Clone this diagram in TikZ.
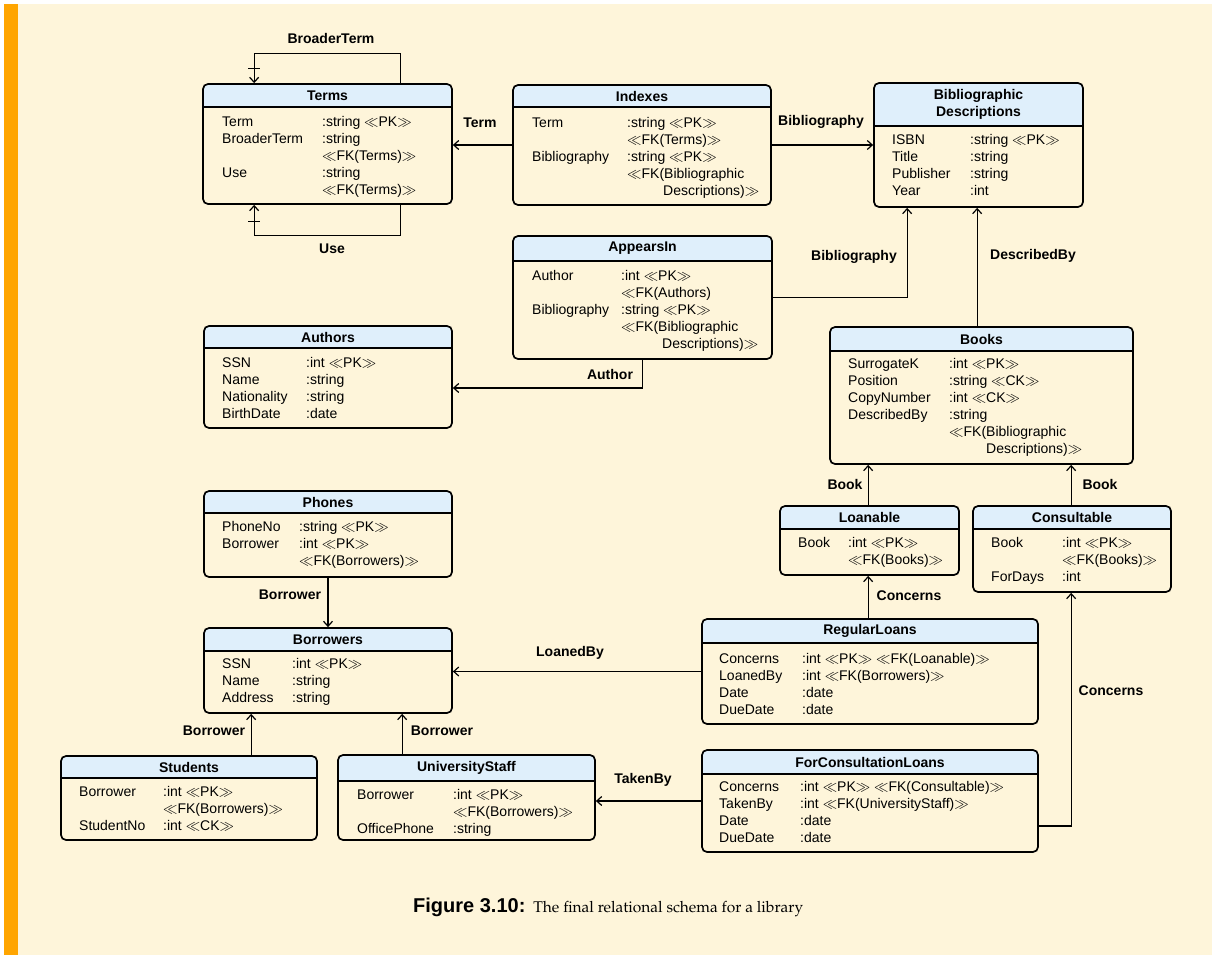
\documentclass[tikz,border=0pt]{standalone}
\usepackage{fontspec}
\setmainfont{Liberation Sans}
\usetikzlibrary{arrows.meta,fit}
\definecolor{cream}{HTML}{FEF5DA}
\definecolor{hdr}{HTML}{DFEFFB}
\definecolor{barc}{HTML}{FFA500}
\newcommand\lgl{$\ll$}
\newcommand\rgl{$\gg$}
\tikzset{
 boxline/.style={line width=1.7pt},
 conn/.style={line width=1.2pt, -{Straight Barb[length=5pt,width=9pt]}},
 plainconn/.style={line width=1.2pt},
 lbl/.style={font=\fontsize{14}{17}\selectfont\bfseries, inner sep=0pt, text height=10pt, text depth=3pt},
 ttl/.style={font=\fontsize{14}{17}\selectfont\bfseries, inner sep=0pt, align=center},
 fcol/.style={font=\fontsize{14}{17}\selectfont, inner sep=0pt, align=left, anchor=north west},
}
\newcommand\ermbox[7]{%
 \begin{scope}
 \clip[rounded corners=5pt] (#2,#3) rectangle (#4,#5);
 \fill[cream] (#2,#3) rectangle (#4,#5);
 \fill[hdr] (#2,#3) rectangle (#4,#6);
 \end{scope}
 \draw[boxline] (#2,#6) -- (#4,#6);
 \node[draw, boxline, rounded corners=5pt, inner sep=0pt, fit={(#2,#3) (#4,#5)}] (#1) {};
 \node[ttl] (#1-t) at ({(#2+#4)/2},{(#3+#6)/2}) {#7};
}
\newcommand\ermfields[6]{%
 \node[fcol] (#1-a) at (#2,{#4-7}) {\strut #5};
 \node[fcol] (#1-b) at (#3,{#4-7}) {\strut #6};
}
\begin{document}
\begin{tikzpicture}[x=1pt,y=-1pt]
\useasboundingbox (0,0) rectangle (1212,955);
\fill[cream] (4,4) rectangle (1212,955);
\fill[barc] (4,4) rectangle (18,955);

% entities
\ermbox{terms}{203}{84}{452}{204}{107}{Terms}
\ermfields{terms}{222}{322}{121}{Term\\BroaderTerm\\~\\Use}{:string \lgl PK\rgl\\:string\\\lgl FK(Terms)\rgl\\:string\\\lgl FK(Terms)\rgl}

\ermbox{indexes}{513}{85}{771}{205}{107}{Indexes}
\ermfields{indexes}{532}{627}{122}{Term\\~\\Bibliography}{:string \lgl PK\rgl\\\lgl FK(Terms)\rgl\\:string \lgl PK\rgl\\\lgl FK(Bibliographic\\\hspace*{36pt}Descriptions)\rgl}

\ermbox{bib}{874}{83}{1083}{207}{126}{Bibliographic\\Descriptions}
\ermfields{bib}{892}{970}{139}{ISBN\\Title\\Publisher\\Year}{:string \lgl PK\rgl\\:string\\:string\\:int}

\ermbox{appears}{513}{236}{772}{359}{261}{AppearsIn}
\ermfields{appears}{532}{621}{275}{Author\\~\\Bibliography}{:int \lgl PK\rgl\\\lgl FK(Authors)\\:string \lgl PK\rgl\\\lgl FK(Bibliographic\\\hspace*{41pt}Descriptions)\rgl}

\ermbox{authors}{204}{326}{452}{428}{348}{Authors}
\ermfields{authors}{222}{306}{362}{SSN\\Name\\Nationality\\BirthDate}{:int \lgl PK\rgl\\:string\\:string\\:date}

\ermbox{books}{830}{327}{1133}{464}{351}{Books}
\ermfields{books}{848}{949}{363}{SurrogateK\\Position\\CopyNumber\\DescribedBy}{:int \lgl PK\rgl\\:string \lgl CK\rgl\\:int \lgl CK\rgl\\:string\\\lgl FK(Bibliographic\\\hspace*{37pt}Descriptions)\rgl}

\ermbox{phones}{204}{491}{452}{577}{513}{Phones}
\ermfields{phones}{222}{299}{526}{PhoneNo\\Borrower}{:string \lgl PK\rgl\\:int \lgl PK\rgl\\\lgl FK(Borrowers)\rgl}

\ermbox{borrowers}{204}{628}{452}{713}{651}{Borrowers}
\ermfields{borrowers}{222}{292}{663}{SSN\\Name\\Address}{:int \lgl PK\rgl\\:string\\:string}

\ermbox{loanable}{780}{506}{959}{575}{529}{Loanable}
\ermfields{loanable}{798}{848}{542}{Book}{:int \lgl PK\rgl\\\lgl FK(Books)\rgl}

\ermbox{consult}{973}{506}{1171}{592}{529}{Consultable}
\ermfields{consult}{991}{1062}{542}{Book\\~\\ForDays}{:int \lgl PK\rgl\\\lgl FK(Books)\rgl\\:int}

\ermbox{regular}{702}{619}{1038}{724}{643}{RegularLoans}
\ermfields{regular}{719}{802}{658}{Concerns\\LoanedBy\\Date\\DueDate}{:int \lgl PK\rgl{} \lgl FK(Loanable)\rgl\\:int \lgl FK(Borrowers)\rgl\\:date\\:date}

\ermbox{fcl}{702}{750}{1038}{852}{774}{ForConsultationLoans}
\ermfields{fcl}{719}{800}{786}{Concerns\\TakenBy\\Date\\DueDate}{:int \lgl PK\rgl{} \lgl FK(Consultable)\rgl\\:int \lgl FK(UniversityStaff)\rgl\\:date\\:date}

\ermbox{students}{61}{756}{317}{840}{778}{Students}
\ermfields{students}{79}{163}{791}{Borrower\\~\\StudentNo}{:int \lgl PK\rgl\\\lgl FK(Borrowers)\rgl\\:int \lgl CK\rgl}

\ermbox{ustaff}{338}{755}{595}{840}{781}{UniversityStaff}
\ermfields{ustaff}{357}{453}{794}{Borrower\\~\\OfficePhone}{:int \lgl PK\rgl\\\lgl FK(Borrowers)\rgl\\:string}

% helper coordinates
\coordinate (btop) at ([xshift=198pt]terms.north west);
\coordinate (btarget) at ([xshift=52pt]terms.north west);
\coordinate (ubot) at ([xshift=198pt]terms.south west);
\coordinate (utarget) at ([xshift=52pt]terms.south west);
\coordinate (dsrc) at ([xshift=148pt]books.north west);
\coordinate (lbk) at ([xshift=89pt]loanable.north west);
\coordinate (cbk) at ([xshift=99pt]consult.north west);
\coordinate (rcn) at ([xshift=167pt]regular.north west);
\coordinate (stb) at ([xshift=191pt]students.north west);
\coordinate (usb) at ([xshift=65pt]ustaff.north west);

% connectors
\draw[conn] (btop) -- ++(0,-30) -| (btarget);
\draw[plainconn] ([xshift=-6pt,yshift=15pt]btarget) -- ++(12,0);
\draw[conn] (ubot) -- ++(0,31) -| (utarget);
\draw[plainconn] ([xshift=-6pt,yshift=-17pt]utarget) -- ++(12,0);
\draw[conn] (indexes.west) -- (terms.east |- indexes.west);
\draw[conn] (indexes.east) -- (bib.west |- indexes.east);
\draw[conn] (appears.east) -| ([xshift=34pt]bib.south west);
\draw[conn] (dsrc) -- (dsrc |- bib.south);
\draw[conn] ([xshift=130pt]appears.south west) |- ([yshift=-11pt]authors.east);
\draw[conn] (lbk) -- (lbk |- books.south);
\draw[conn] (cbk) -- (cbk |- books.south);
\draw[conn] (rcn) -- (rcn |- loanable.south);
\draw[conn] ([yshift=-25pt]fcl.east) -| ([xshift=99pt]consult.south west);
\draw[conn] (regular.west) -- (borrowers.east |- regular.west);
\draw[conn] (fcl.west) -- (ustaff.east |- fcl.west);
\draw[conn] (phones.south) -- (borrowers.north);
\draw[conn] (stb) -- (stb |- borrowers.south);
\draw[conn] (usb) -- (usb |- borrowers.south);

% labels
\node[lbl] (l-bt) at (331,40) {BroaderTerm};
\node[lbl] (l-use) at (332,250) {Use};
\node[lbl] (l-term) at (480,124) {Term};
\node[lbl] (l-bib1) at (821,122) {Bibliography};
\node[lbl] (l-bib2) at (854,257) {Bibliography};
\node[lbl] (l-desc) at (1033,256) {DescribedBy};
\node[lbl] (l-auth) at (610,376) {Author};
\node[lbl] (l-book1) at (845,486) {Book};
\node[lbl] (l-book2) at (1100,486) {Book};
\node[lbl] (l-conc1) at (909,597) {Concerns};
\node[lbl] (l-conc2) at (1111,692) {Concerns};
\node[lbl] (l-loaned) at (570,653) {LoanedBy};
\node[lbl] (l-taken) at (643,780) {TakenBy};
\node[lbl] (l-bor1) at (290,596) {Borrower};
\node[lbl] (l-bor2) at (214,732) {Borrower};
\node[lbl] (l-bor3) at (442,732) {Borrower};

% caption
\node[anchor=base west, inner sep=0pt] (cap) at (413,912) {{\fontsize{20}{24}\selectfont\bfseries Figure 3.10:}\hspace{8pt}{\fontencoding{OT1}\fontfamily{ppl}\fontsize{15.5}{19}\selectfont The final relational schema for a library}};
\end{tikzpicture}
\end{document}
